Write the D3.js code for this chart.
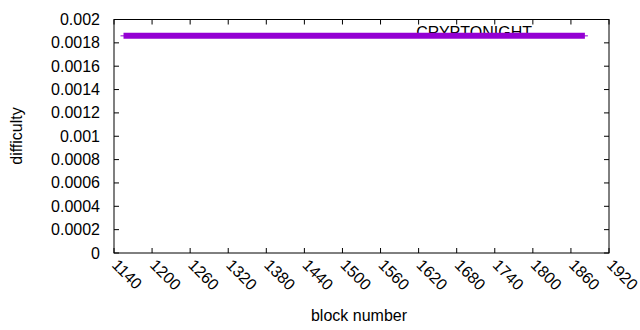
<!DOCTYPE html>
<html>
<head>
<meta charset="utf-8">
<style>
  body { margin: 0; background: #fff; }
  svg { display: block; background: #fff; }
  text { font-family: "Liberation Sans", Arial, sans-serif; fill: #000; }
</style>
</head>
<body>
<div id="chart"></div>
<script src="https://d3js.org/d3.v7.min.js"></script>
<script>
// data
var seriesName = "CRYPTONIGHT";
var blocks = [1155, 1240, 1330, 1420, 1510, 1600, 1690, 1780, 1882];
var difficulty = [0.00186, 0.00186, 0.00186, 0.00186, 0.00186, 0.00186, 0.00186, 0.00186, 0.00186];
var xTicks = [1140, 1200, 1260, 1320, 1380, 1440, 1500, 1560, 1620, 1680, 1740, 1800, 1860, 1920];
var yTicks = [0, 0.0002, 0.0004, 0.0006, 0.0008, 0.001, 0.0012, 0.0014, 0.0016, 0.0018, 0.002];

var width = 640, height = 330;
var margin = {left: 114, right: 31, top: 19.5, bottom: 77};

var svg = d3.select("#chart").append("svg")
  .attr("width", width)
  .attr("height", height);

var x = d3.scaleLinear().domain([1140, 1920]).range([margin.left, width - margin.right]);
var y = d3.scaleLinear().domain([0, 0.002]).range([height - margin.bottom, margin.top]);

var fs = 16;

// y ticks, inward on both sides
yTicks.forEach(function(t) {
  svg.append("line").attr("x1", x.range()[0]).attr("x2", x.range()[0] + 5)
    .attr("y1", y(t)).attr("y2", y(t)).attr("stroke", "#000");
  svg.append("line").attr("x1", x.range()[1]).attr("x2", x.range()[1] - 5)
    .attr("y1", y(t)).attr("y2", y(t)).attr("stroke", "#000");
  svg.append("text").attr("x", x.range()[0] - 14).attr("y", y(t) + 5.5)
    .attr("text-anchor", "end").style("font-size", fs + "px")
    .text(t === 0 ? "0" : String(+t.toFixed(4)));
});

xTicks.forEach(function(t) {
  svg.append("line").attr("x1", x(t)).attr("x2", x(t))
    .attr("y1", y.range()[0]).attr("y2", y.range()[0] - 5).attr("stroke", "#000");
  svg.append("line").attr("x1", x(t)).attr("x2", x(t))
    .attr("y1", y.range()[1]).attr("y2", y.range()[1] + 5).attr("stroke", "#000");
  svg.append("text")
    .attr("transform", "translate(" + (x(t) - 3) + "," + (y.range()[0] + 13) + ") rotate(45)")
    .style("font-size", fs + "px")
    .text(t);
});

// frame
svg.append("rect")
  .attr("x", x.range()[0]).attr("y", y.range()[1])
  .attr("width", x.range()[1] - x.range()[0])
  .attr("height", y.range()[0] - y.range()[1])
  .attr("fill", "none").attr("stroke", "#000");

// legend text (sits under the data line)
svg.append("text").attr("x", 532).attr("y", 38)
  .attr("text-anchor", "end").style("font-size", fs + "px").text(seriesName);

// thin end line
svg.append("line")
  .attr("x1", x(blocks[0]) - 3).attr("x2", x(blocks[blocks.length - 1]) + 3)
  .attr("y1", y(difficulty[0])).attr("y2", y(difficulty[0]))
  .attr("stroke", "#9400d3").attr("stroke-width", 1);

var line = d3.line()
  .x(function(d, i) { return x(blocks[i]); })
  .y(function(d) { return y(d); });

svg.append("path")
  .datum(difficulty)
  .attr("d", line)
  .attr("fill", "none")
  .attr("stroke", "#9400d3")
  .attr("stroke-width", 6);

// axis labels
svg.append("text").attr("x", 359).attr("y", 321)
  .attr("text-anchor", "middle").style("font-size", fs + "px").text("block number");
svg.append("text")
  .attr("transform", "translate(22,136) rotate(-90)")
  .attr("text-anchor", "middle").style("font-size", fs + "px").text("difficulty");
</script>
</body>
</html>
